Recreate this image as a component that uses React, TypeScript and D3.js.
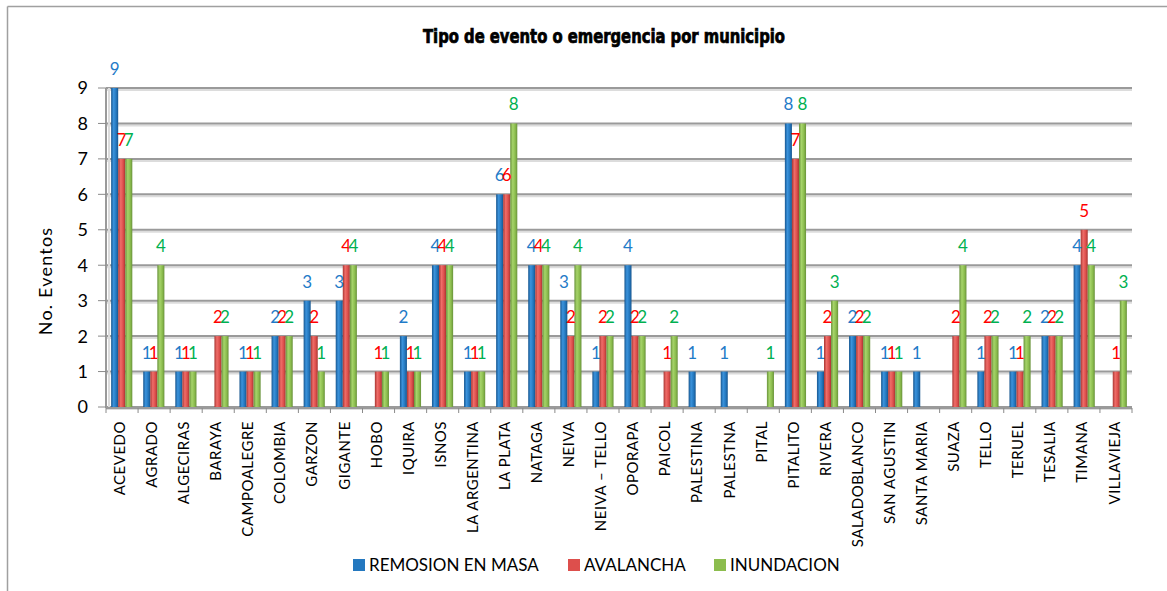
import * as d3 from "d3";

const categories = [
  "ACEVEDO", "AGRADO", "ALGECIRAS", "BARAYA", "CAMPOALEGRE", "COLOMBIA", "GARZON", "GIGANTE",
  "HOBO", "IQUIRA", "ISNOS", "LA ARGENTINA", "LA PLATA", "NATAGA", "NEIVA", "NEIVA – TELLO",
  "OPORAPA", "PAICOL", "PALESTINA", "PALESTNA", "PITAL", "PITALITO", "RIVERA", "SALADOBLANCO",
  "SAN AGUSTIN", "SANTA MARIA", "SUAZA", "TELLO", "TERUEL", "TESALIA", "TIMANA", "VILLAVIEJA",
];

const remosion = [9, 1, 1, 0, 1, 2, 3, 3, 0, 2, 4, 1, 6, 4, 3, 1, 4, 0, 1, 1, 0, 8, 1, 2, 1, 1, 0, 1, 1, 2, 4, 0];
const avalancha = [7, 1, 1, 2, 1, 2, 2, 4, 1, 1, 4, 1, 6, 4, 2, 2, 2, 1, 0, 0, 0, 7, 2, 2, 1, 0, 2, 2, 1, 2, 5, 1];
const inundacion = [7, 4, 1, 2, 1, 2, 1, 4, 1, 1, 4, 1, 8, 4, 4, 2, 2, 2, 0, 0, 1, 8, 3, 2, 1, 0, 4, 2, 2, 2, 4, 3];

const yTicks = [0, 1, 2, 3, 4, 5, 6, 7, 8, 9];

const series = [
  { name: "REMOSION EN MASA", values: remosion, fill: "#2478bf", dark: "#17568f", light: "#3b93dc", label: "#1f7bc8" },
  { name: "AVALANCHA", values: avalancha, fill: "#dd4f4c", dark: "#a83532", light: "#ef6d69", label: "#ff0000" },
  { name: "INUNDACION", values: inundacion, fill: "#8cbd4e", dark: "#68923a", light: "#a6d46a", label: "#00b050" },
];

const W = 1167;
const H = 591;
const plot = { left: 106, right: 1132, top: 88, bottom: 407 };
const font = "Lato, 'Open Sans', sans-serif";

export default function App() {
  const x0 = d3
    .scaleBand<string>()
    .domain(categories)
    .range([plot.left, plot.right])
    .paddingInner(0.34)
    .paddingOuter(0.16);
  const x1 = d3
    .scaleBand<string>()
    .domain(series.map((s) => s.name))
    .range([0, x0.bandwidth()]);
  const y = d3.scaleLinear().domain([0, 9]).range([plot.bottom, plot.top]);
  const step = (plot.right - plot.left) / categories.length;

  return (
    <svg
      width={W}
      height={H}
      style={{ position: "absolute", left: 0, top: 0, background: "#fff" }}
    >
      <defs>
        {series.map((s, i) => (
          <linearGradient key={s.name} id={`g${i}`} x1="0" x2="1" y1="0" y2="0">
            <stop offset="0%" stopColor={s.dark} />
            <stop offset="35%" stopColor={s.light} />
            <stop offset="70%" stopColor={s.fill} />
            <stop offset="100%" stopColor={s.dark} />
          </linearGradient>
        ))}
      </defs>

      {/* chart frame */}
      <line x1={7.5} x2={W} y1={6.5} y2={6.5} stroke="#a0a0a0" strokeWidth={1.5} />
      <line x1={7.5} x2={7.5} y1={6.5} y2={H} stroke="#a0a0a0" strokeWidth={1.5} />

      <text
        x={423}
        y={43}
        textLength={362}
        lengthAdjust="spacingAndGlyphs"
        fontFamily="'DejaVu Sans Condensed', 'DejaVu Sans', sans-serif"
        fontStretch="condensed"
        fontWeight="bold"
        fontSize={19}
        fill="#000"
        stroke="#000"
        strokeWidth={0.7}
      >
        Tipo de evento o emergencia por municipio
      </text>

      {/* gridlines */}
      {yTicks.map((t) => (
        <g key={t}>
          <line x1={plot.left} x2={plot.right} y1={y(t) + 2} y2={y(t) + 2} stroke="#dcdcdc" strokeWidth={2} />
          <line x1={plot.left} x2={plot.right} y1={y(t)} y2={y(t)} stroke="#9a9a9a" strokeWidth={2} />
        </g>
      ))}
      <line x1={plot.left} x2={plot.left} y1={plot.top} y2={plot.bottom + 1} stroke="#9a9a9a" strokeWidth={2} />
      <line x1={plot.left + 3} x2={plot.left + 3} y1={plot.top} y2={plot.bottom} stroke="#dcdcdc" strokeWidth={2} />

      {/* y axis */}
      {yTicks.map((t) => (
        <g key={`yt${t}`}>
          <line x1={plot.left - 8} x2={plot.left} y1={y(t)} y2={y(t)} stroke="#8a8a8a" strokeWidth={1} />
          <text x={88} y={y(t)} dy="0.36em" textAnchor="end" fontFamily={font} fontSize={18} fill="#000">
            {t}
          </text>
        </g>
      ))}
      <text
        transform={`translate(46,281) rotate(-90)`}
        textAnchor="middle"
        dy="0.35em"
        fontFamily={font}
        fontSize={18}
        letterSpacing={1.2}
        fill="#000"
      >
        No.  Eventos
      </text>

      {/* bars */}
      {categories.map((c, ci) => (
        <g key={c} transform={`translate(${x0(c)},0)`}>
          {series.map((s, si) =>
            s.values[ci] > 0 ? (
              <rect
                key={s.name}
                x={x1(s.name)}
                y={y(s.values[ci])}
                width={x1.bandwidth()}
                height={plot.bottom - y(s.values[ci])}
                fill={`url(#g${si})`}
              />
            ) : null
          )}
        </g>
      ))}

      {/* data labels */}
      {categories.map((c, ci) => (
        <g key={`l${c}`}>
          {series.map((s) =>
            s.values[ci] > 0 ? (
              <text
                key={s.name}
                x={(x0(c) ?? 0) + (x1(s.name) ?? 0) + x1.bandwidth() / 2}
                y={y(s.values[ci]) - 13}
                textAnchor="middle"
                fontFamily={font}
                fontSize={17}
                fill={s.label}
              >
                {s.values[ci]}
              </text>
            ) : null
          )}
        </g>
      ))}

      {/* x axis */}
      <line x1={plot.left} x2={plot.right} y1={plot.bottom + 1} y2={plot.bottom + 1} stroke="#9a9a9a" strokeWidth={2} />
      {d3.range(categories.length + 1).map((i) => (
        <line
          key={`xt${i}`}
          x1={plot.left + i * step}
          x2={plot.left + i * step}
          y1={plot.bottom + 1}
          y2={plot.bottom + 6}
          stroke="#8a8a8a"
          strokeWidth={1}
        />
      ))}
      {categories.map((c) => (
        <text
          key={`xl${c}`}
          transform={`translate(${(x0(c) ?? 0) + x0.bandwidth() / 2 - 2},${plot.bottom + 14}) rotate(-90)`}
          textAnchor="end"
          dy="0.35em"
          fontFamily={font}
          fontSize={15}
          letterSpacing={0.5}
          fill="#000"
        >
          {c}
        </text>
      ))}

      {/* legend */}
      {series.map((s, i) => {
        const lx = [353, 568, 714][i];
        return (
          <g key={`lg${s.name}`}>
            <rect x={lx} y={559} width={12} height={12} fill={s.fill} />
            <text x={lx + 16} y={565} dy="0.35em" fontFamily={font} fontSize={17} fill="#000">
              {s.name}
            </text>
          </g>
        );
      })}
    </svg>
  );
}
